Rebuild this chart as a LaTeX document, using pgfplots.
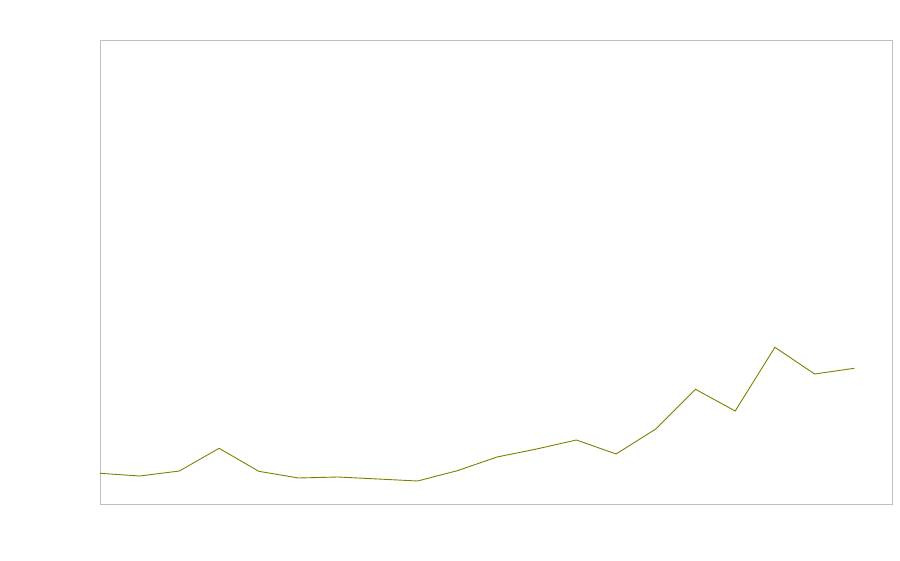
\documentclass[border=0pt]{standalone}
\usepackage{pgfplots}
\pgfplotsset{compat=1.18}
\definecolor{linecol}{HTML}{808000}
\definecolor{framecol}{HTML}{BFBFBF}
\begin{document}
\begin{tikzpicture}[x=1pt,y=1pt]
\useasboundingbox[fill=white] (0,0) rectangle (900,560);
\begin{axis}[
  at={(100pt,56pt)}, anchor=south west,
  width=792pt, height=464pt, scale only axis,
  xmin=0, xmax=19.95, ymin=0, ymax=464,
  xtick=\empty, ytick=\empty,
  axis line style={framecol, line width=0.9pt},
  clip=true,
]
\addplot[linecol, line width=0.9pt, mark=none] coordinates {
(0,30.7) (1,28) (2,33) (3,55.7) (4,32.7) (5,26) (6,27) (7,25) (8,23)
(9,33.3) (10,47) (11,55) (12,64) (13,50) (14,75) (15,114.7) (16,93)
(17,156.7) (18,130) (19,135.7)
};
\end{axis}
\end{tikzpicture}
\end{document}
